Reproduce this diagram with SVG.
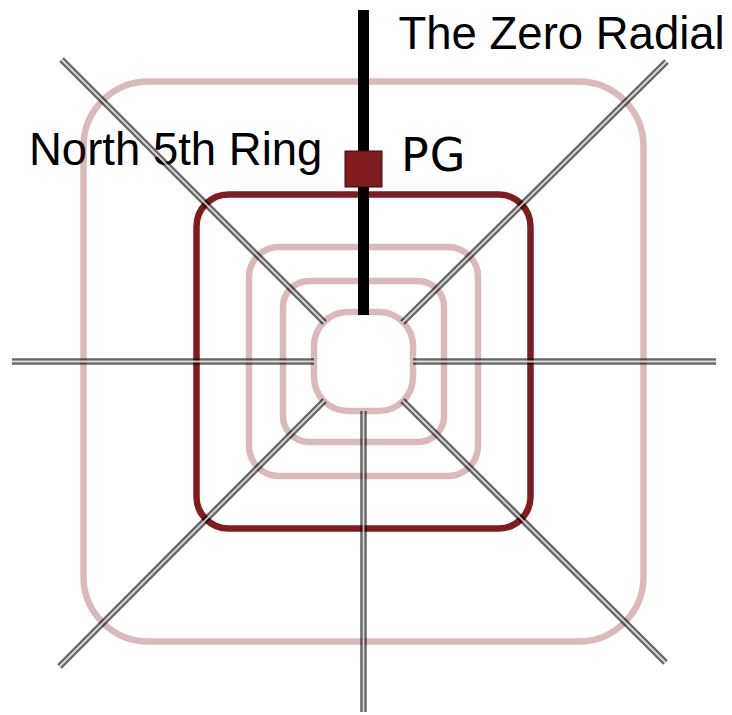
<svg xmlns="http://www.w3.org/2000/svg" width="732" height="715" viewBox="0 0 732 715">
<style>
.lbl{font-family:"Liberation Sans",Arial,sans-serif;font-size:45.5px;fill:#000}
.pg{font-family:"DejaVu Sans",sans-serif;font-size:46px;letter-spacing:1px;fill:#000}
.ring{fill:none;stroke:#7f1a1f;stroke-opacity:0.3;stroke-width:6.5}
.ring5{fill:none;stroke:#801b20;stroke-width:6.5}
.rad{fill:none;stroke:#000;stroke-opacity:0.6;stroke-width:6.5;stroke-linecap:butt}
.radc{fill:none;stroke:#fff;stroke-opacity:0.75;stroke-width:1.8;stroke-linecap:butt}
</style>
<rect width="732" height="715" fill="#fff"/>
<g id="label-north5th"><text class="lbl" x="29" y="165">North 5th Ring</text></g>
<g id="label-zero-radial"><text class="lbl" x="398.5" y="48.5">The Zero Radial</text></g>
<g transform="translate(363.5,361.5)">
  <g id="ring-outer"><rect class="ring" x="-280" y="-280" width="560" height="560" rx="65"/></g>
  <g id="ring-3"><rect class="ring" x="-114.5" y="-114.5" width="229" height="229" rx="30"/></g>
  <g id="ring-2"><rect class="ring" x="-80.5" y="-80.5" width="161" height="161" rx="26"/></g>
  <g id="ring-inner"><rect class="ring" x="-49.5" y="-49.5" width="99" height="99" rx="34"/></g>
  <g id="ring-north5th"><rect class="ring5" x="-167" y="-167" width="334" height="334" rx="32"/></g>
  <g id="radials">
    <g class="rad">
      <path d="M-49.5,0H-351.5 M49.5,0H352.5 M0,49.5V350.5 M-39,-39L-302,-302 M39,-39L303,-300 M-39,39L-304,305 M39,39L302,301"/>
    </g>
    <g class="radc">
      <path d="M-49.5,0H-351.5 M49.5,0H352.5 M0,49.5V350.5 M-39,-39L-302,-302 M39,-39L303,-300 M-39,39L-304,305 M39,39L302,301"/>
    </g>
  </g>
  <g id="zero-radial"><line x1="0" y1="-351.5" x2="0" y2="-46.5" stroke="#000" stroke-width="11"/></g>
  <g id="node-pg"><rect x="-18.5" y="-210.5" width="37" height="36" fill="#801b20" stroke="#3a0a0c" stroke-width="1"/></g>
</g>
<g id="label-pg"><text class="pg" x="401" y="171">PG</text></g>
</svg>
